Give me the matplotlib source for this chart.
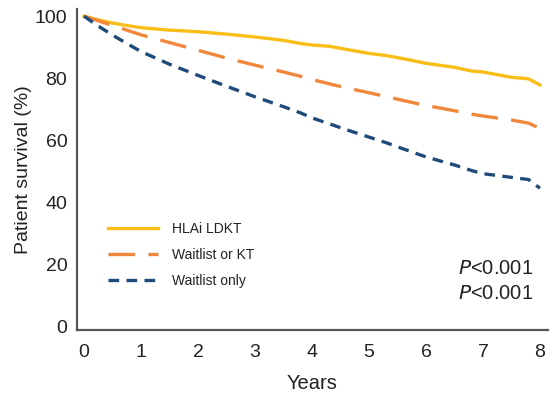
import matplotlib
matplotlib.use("Agg")
import matplotlib.pyplot as plt

plt.rcParams['font.family'] = ['Liberation Sans', 'DejaVu Sans']

# survival curves (years, %)
years = [0, 0.25, 0.5, 0.75, 1, 1.5, 2, 2.5, 3, 3.5, 3.8, 4, 4.3, 4.6, 5, 5.3, 5.6, 6, 6.5, 6.8, 7, 7.5, 7.8, 8]
ldkt = [100, 98.8, 97.8, 97.0, 96.3, 95.5, 95.0, 94.2, 93.3, 92.2, 91.2, 90.7, 90.3, 89.3, 88.0, 87.3, 86.3, 84.8, 83.5, 82.3, 82.0, 80.3, 79.8, 77.8]
wl_kt = [100, 98.5, 97.0, 95.5, 94.0, 91.5, 89.0, 86.5, 84.2, 82.0, 80.6, 79.6, 78.2, 76.9, 75.3, 74.1, 72.8, 71.2, 69.5, 68.4, 67.8, 66.5, 65.5, 63.8]
wl_only = [100, 96.8, 93.9, 91.2, 88.6, 84.5, 80.9, 77.4, 74.0, 70.8, 68.8, 67.2, 65.3, 63.4, 61.0, 59.2, 57.2, 54.6, 52.0, 50.2, 49.2, 48.0, 47.3, 44.5]

labels = ['HLAi LDKT', 'Waitlist or KT', 'Waitlist only']
xticks = [0, 1, 2, 3, 4, 5, 6, 7, 8]
yticks = [0, 20, 40, 60, 80, 100]

fig = plt.figure(figsize=(5.54, 3.94), dpi=100)
ax = fig.add_axes([0.139, 0.162, 0.850, 0.815])

ax.plot(years, ldkt, color='#F9BE16', lw=2.4, label=labels[0])
ax.plot(years, wl_kt, color='#F0873A', lw=2.4, dashes=(8, 4), label=labels[1])
ax.plot(years, wl_only, color='#1F4B78', lw=2.4, dashes=(3.2, 2.2), label=labels[2])

ax.set_xlim(-0.123, 8.14)
ax.set_ylim(-1.3, 102.3)
ax.set_xticks(xticks)
ax.set_yticks(yticks)
ax.tick_params(length=0, labelsize=14, colors='#222222')
ax.tick_params(axis='x', pad=10)
ax.tick_params(axis='y', pad=7)
for s in ['top', 'right']:
    ax.spines[s].set_visible(False)
for s in ['left', 'bottom']:
    ax.spines[s].set_color('#555555')
    ax.spines[s].set_linewidth(1.6)

ax.set_xlabel('Years', fontsize=14.5, color='#222222', labelpad=9)
ax.set_ylabel('Patient survival (%)', fontsize=14, color='#222222', labelpad=2)

leg = ax.legend(loc='upper left', bbox_to_anchor=(0.04, 0.375), frameon=False,
                fontsize=10, handlelength=3.6, handletextpad=1.0, labelspacing=0.85)
for t in leg.get_texts():
    t.set_color('#222222')

ax.text(7.88, 18.7, r'$\it{P}$<0.001', ha='right', va='center', fontsize=14.5, color='#222222')
ax.text(7.88, 10.6, r'$\it{P}$<0.001', ha='right', va='center', fontsize=14.5, color='#222222')

fig.savefig('out.png', dpi=100)
